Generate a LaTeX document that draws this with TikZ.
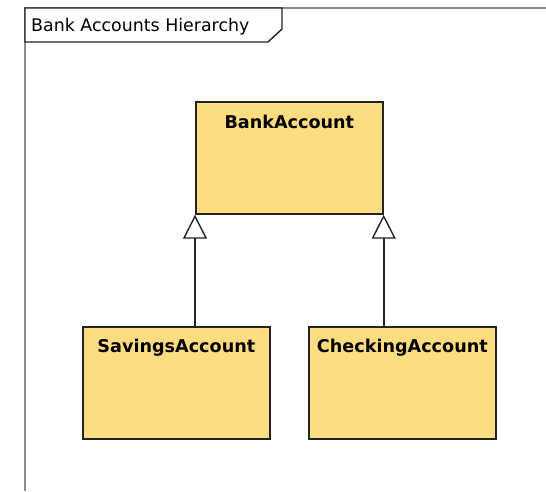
\documentclass[tikz,border=0pt]{standalone}
\usepackage{fontspec}
\usetikzlibrary{arrows.meta}
\newfontfamily\dvsans{DejaVu Sans}
\definecolor{classfill}{RGB}{253,221,128}
\definecolor{classline}{RGB}{34,34,34}
\definecolor{framegrey}{RGB}{140,140,140}
\begin{document}
\begin{tikzpicture}[x=1pt,y=-1pt,
  classbox/.style={rectangle, draw=classline, line width=1.7pt, fill=classfill,
    minimum width=187pt, minimum height=112pt, anchor=north west, inner sep=0pt},
  classname/.style={font=\dvsans\bfseries\fontsize{17.6}{20}\selectfont,
    inner sep=0pt, anchor=north},
  inherits/.style={draw=classline, line width=1.7pt,
    -{Triangle[open, length=24pt, width=24pt, line width=1.4pt]}}
]
\useasboundingbox (0,0) rectangle (546,491);
\fill[white] (0,0) rectangle (546,491);

% diagram frame
\draw[framegrey, line width=1.6pt] (25,491) -- (25,8) -- (546,8);
\draw[classline, line width=1.4pt, fill=white]
  (25,8) -- (282,8) -- (282,29) -- (268,42) -- (25,42) -- cycle;
\node[anchor=west, inner sep=0pt, font=\dvsans\fontsize{17.4}{20}\selectfont]
  (title) at (31,27) {Bank Accounts Hierarchy};

% classes
\node[classbox, label={[classname, yshift=-14pt]north:BankAccount}]
  (bank) at (195,101) {};
\node[classbox, label={[classname, yshift=-13pt]north:SavingsAccount}]
  (sav) at (82,326) {};
\node[classbox, label={[classname, yshift=-13pt]north:CheckingAccount}]
  (chk) at (308,326) {};

% generalisations
\draw[inherits] (bank.south west |- sav.north) -- (bank.south west);
\draw[inherits] (bank.south east |- chk.north) -- (bank.south east);
\end{tikzpicture}
\end{document}
